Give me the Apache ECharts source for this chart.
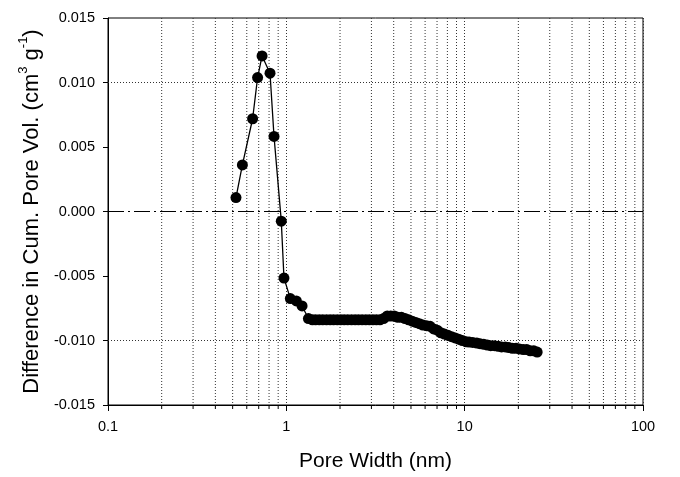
<!DOCTYPE html>
<html>
<head>
<meta charset="utf-8">
<script src="https://cdn.jsdelivr.net/npm/echarts@6/dist/echarts.min.js"></script>
<style>
html,body{margin:0;padding:0;background:#fff;}
#chart{width:680px;height:477px;}
</style>
</head>
<body>
<div id="chart"></div>
<script>
const poreWidth = [0.522, 0.567, 0.647, 0.69, 0.731, 0.81, 0.853, 0.937, 0.97, 1.053, 1.138, 1.225,
  1.33, 1.40, 1.46, 1.53, 1.60, 1.68, 1.76, 1.84, 1.93, 2.02, 2.11, 2.21, 2.32, 2.43, 2.54, 2.66, 2.79, 2.92, 3.06, 3.20, 3.35,
  3.51, 3.68, 3.85, 4.03, 4.22, 4.42, 4.63, 4.85, 5.08, 5.32, 5.57, 5.83, 6.11, 6.40, 6.70, 7.02, 7.35, 7.70, 8.06, 8.44, 8.84,
  9.26, 9.70, 10.2, 10.6, 11.1, 11.7, 12.2, 12.8, 13.4, 14.0, 14.7, 15.4, 16.1, 16.9, 17.7, 18.5, 19.4, 20.3, 21.3, 22.3, 23.3, 24.4, 25.5];
const diffVol = [0.00108, 0.00361, 0.00719, 0.01038, 0.01206, 0.01072, 0.00582, -0.00075, -0.00516, -0.00675, -0.00693, -0.00732,
  -0.0083, -0.0084, -0.0084, -0.0084, -0.0084, -0.0084, -0.0084, -0.0084, -0.0084, -0.0084, -0.0084, -0.0084, -0.0084, -0.0084, -0.0084, -0.0084, -0.0084, -0.0084, -0.0084, -0.0084, -0.0084,
  -0.0083, -0.0081, -0.0081, -0.0081, -0.0082, -0.0082, -0.0083, -0.0084, -0.0085, -0.0086, -0.0087, -0.0088, -0.00885, -0.0089, -0.0091, -0.0092, -0.0094, -0.0095, -0.0096, -0.0097, -0.0098,
  -0.0099, -0.0100, -0.0101, -0.01012, -0.01015, -0.0102, -0.01025, -0.0103, -0.01035, -0.0104, -0.0104, -0.01045, -0.0105, -0.0105, -0.01055, -0.0106, -0.0106, -0.01065, -0.0107, -0.0107, -0.0108, -0.0108, -0.0109];
const minorTicks = [0.2, 0.3, 0.4, 0.5, 0.6, 0.7, 0.8, 0.9, 2, 3, 4, 5, 6, 7, 8, 9, 20, 30, 40, 50, 60, 70, 80, 90];
const xLabels = [0.1, 1, 10, 100];
const yTicks = [-0.015, -0.010, -0.005, 0.000, 0.005, 0.010, 0.015];

const FONT = 'Liberation Sans, Arial, sans-serif';
const chart = echarts.init(document.getElementById('chart'), null, {renderer: 'canvas'});
const gridDot = {color: '#333', width: 1, type: [1, 2]};
const yMin = yTicks[0], yMax = yTicks[yTicks.length - 1];

const yGridLines = yTicks.filter(v => v !== 0 && v !== yMin && v !== yMax)
  .map(v => ({yAxis: v, lineStyle: {color: '#333', width: 1, type: [1, 2]}}));

chart.setOption({
  backgroundColor: '#fff',
  animation: false,
  grid: {left: 108, right: 37, top: 18, bottom: 69, show: true, borderColor: '#000', borderWidth: 1},
  xAxis: {
    type: 'log', logBase: 10, min: xLabels[0], max: xLabels[xLabels.length - 1],
    name: 'Pore Width (nm)', nameLocation: 'middle', nameGap: 46,
    nameTextStyle: {fontFamily: FONT, fontSize: 21, color: '#000'},
    axisLine: {onZero: false, lineStyle: {color: '#000', width: 1}},
    axisTick: {inside: false, length: 6, lineStyle: {color: '#000'}},
    axisLabel: {fontFamily: FONT, fontSize: 14.5, color: '#000', margin: 14,
      formatter: v => String(v)},
    splitLine: {show: true, lineStyle: gridDot}
  },
  yAxis: {
    type: 'value', min: yMin, max: yMax, interval: 0.005,
    name: 'Difference in Cum. Pore Vol. (cm{sup|3} g{sup|-1})', nameLocation: 'middle', nameGap: 45,
    nameTextStyle: {fontFamily: FONT, fontSize: 22, color: '#000',
      rich: {sup: {fontFamily: FONT, fontSize: 13, color: '#000', verticalAlign: 'top', lineHeight: 30}}},
    axisLine: {onZero: false, lineStyle: {color: '#000', width: 1}},
    axisTick: {inside: false, length: 5, lineStyle: {color: '#000'}},
    axisLabel: {fontFamily: FONT, fontSize: 14.5, color: '#000', margin: 13,
      formatter: v => (Math.abs(v) < 1e-9 ? 0 : v).toFixed(3)},
    splitLine: {show: false}
  },
  series: [
    {
      type: 'custom',
      silent: true,
      clip: false,
      data: minorTicks.map(v => [v]),
      encode: {x: 0},
      renderItem: (params, api) => {
        const top = api.coord([api.value(0), yMax]);
        const bot = api.coord([api.value(0), yMin]);
        return {type: 'group', children: [
          {type: 'line', shape: {x1: top[0], y1: top[1], x2: bot[0], y2: bot[1]}, style: {stroke: '#333', lineWidth: 1, lineDash: [1, 2]}},
          {type: 'line', shape: {x1: bot[0], y1: bot[1], x2: bot[0], y2: bot[1] + 4}, style: {stroke: '#000', lineWidth: 1}}
        ]};
      },
      z: 1
    },
    {
      type: 'line',
      data: poreWidth.map((x, i) => [x, diffVol[i]]),
      symbol: 'circle', symbolSize: 11,
      itemStyle: {color: '#000'},
      lineStyle: {color: '#000', width: 1.3},
      z: 5,
      markLine: {
        silent: true, symbol: 'none', label: {show: false},
        data: yGridLines.concat([{yAxis: 0, lineStyle: {color: '#000', width: 1, type: [16, 4, 2, 4]}}])
      }
    }
  ]
});
</script>
</body>
</html>
